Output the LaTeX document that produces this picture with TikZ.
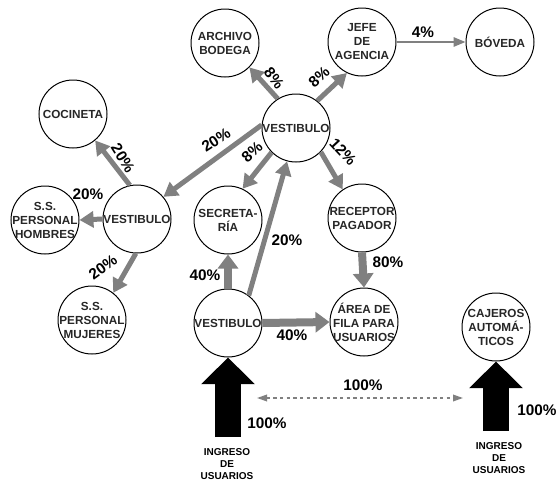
\documentclass[tikz,border=0pt]{standalone}
\usepackage{fontspec}
\setmainfont{Liberation Sans}
\usetikzlibrary{arrows.meta}

\begin{document}
\begin{tikzpicture}[x=0.75pt, y=-0.75pt,
  room/.style={circle, draw, line width=0.75pt, minimum size=51pt, inner sep=0pt,
    label={[roomtext]center:{#1}}},
  roomtext/.style={align=center, inner sep=0pt, text=black!85,
    font=\bfseries\fontsize{8.8}{10.5}\selectfont},
  flow/.style={draw=black!50, line width=3.75pt, -{Triangle[length=10.5pt, width=12pt]}},
  bigflow/.style={draw=black!50, line width=6pt, -{Triangle[length=10.5pt, width=15pt]}},
  thinflow/.style={draw=black!50, line width=1.5pt, -{Triangle[length=9pt, width=7pt]}},
  dashflow/.style={draw=black!50, line width=1pt, dash pattern=on 2.5pt off 2.5pt,
    {Triangle[length=7.5pt, width=5pt]}-{Triangle[length=7.5pt, width=5pt]}},
  entry/.style={draw=black, line width=20pt, -{Triangle[length=20pt, width=39pt]}},
  pct/.style={font=\bfseries\fontsize{11.5}{13}\selectfont, inner sep=0pt},
  entrytext/.style={align=center, font=\bfseries\fontsize{7.5}{9}\selectfont}]
  \useasboundingbox (0,0) rectangle (557,482);

  % rooms
  \node[room={ARCHIVO\\BODEGA}] (arch) at (225,43) {};
  \node[room={JEFE\\DE\\AGENCIA}] (jefe) at (362,42) {};
  \node[room={B\'OVEDA}] (boveda) at (500,42) {};
  \node[room={VESTIBULO}] (vesT) at (296,128) {};
  \node[room={COCINETA}] (cocin) at (73,114) {};
  \node[room={VESTIBULO}] (vesL) at (137,219) {};
  \node[room={S.S.\\PERSONAL\\HOMBRES}] (homb) at (45,220) {};
  \node[room={S.S.\\PERSONAL\\MUJERES}] (muj) at (92,320) {};
  \node[room={SECRETA-\\R\'IA}] (secr) at (228,220) {};
  \node[room={RECEPTOR\\PAGADOR}] (recep) at (362,218) {};
  \node[room={VESTIBULO}] (vesB) at (228,323) {};
  \node[room={\'AREA DE\\FILA PARA\\USUARIOS}] (area) at (364,322) {};
  \node[room={CAJEROS\\AUTOM\'A-\\TICOS}] (cajeros) at (496,327) {};

  % flows between rooms
  \draw[flow] (vesT.122) -- (arch.-45);
  \draw[flow] (vesT.52) -- (jefe.244);
  \draw[thinflow] (jefe.east) -- (boveda.west);
  \draw[flow] (vesT.175) -- (vesL.40);
  \draw[flow] (vesT.225) -- (secr.65);
  \draw[flow] (vesT.-44) -- (recep.124);
  \draw[flow] (vesB.53) -- (vesT.255);
  \draw[bigflow] (vesB.north) -- (secr.south);
  \draw[bigflow] (vesB.east) -- (area.west);
  \draw[bigflow] (recep.south) -- (area.north);
  \draw[flow] (vesL.102) -- (cocin.-50);
  \draw[flow] (vesL.west) -- (homb.east);
  \draw[flow] (vesL.268) -- (muj.52);

  % entrances
  \coordinate (inL) at (228,437);
  \coordinate (inR) at (496,431);
  \coordinate (dL) at (257,398);
  \coordinate (dR) at (463,398);
  \draw[entry] (inL) -- (vesB.south);
  \draw[entry] (inR) -- (cajeros.south);
  \draw[dashflow] (dL) -- (dR);
  \node[entrytext] (txL) at (227,464) {INGRESO\\DE\\USUARIOS};
  \node[entrytext] (txR) at (499,458) {INGRESO\\DE\\USUARIOS};

  % percentages
  \node[pct, rotate=-52] (pArch) at (274,78) {8\%};
  \node[pct, rotate=42] (pJefe) at (319,77) {8\%};
  \node[pct] (pBov) at (423,32) {4\%};
  \node[pct, rotate=33] (pVesL) at (216,140) {20\%};
  \node[pct, rotate=42] (pSecrT) at (252,152) {8\%};
  \node[pct, rotate=-47] (pRecep) at (343,152) {12\%};
  \node[pct] (pVesT) at (287,240) {20\%};
  \node[pct] (pSecr) at (205,275) {40\%};
  \node[pct] (pArea) at (292,335) {40\%};
  \node[pct] (pFila) at (388,262) {80\%};
  \node[pct, rotate=-58] (pCocin) at (123,158) {20\%};
  \node[pct] (pHomb) at (88,194) {20\%};
  \node[pct, rotate=36] (pMuj) at (103,267) {20\%};
  \node[pct] (pDash) at (363,385) {100\%};
  \node[pct] (pInL) at (267,423) {100\%};
  \node[pct] (pInR) at (537,410) {100\%};
\end{tikzpicture}
\end{document}
